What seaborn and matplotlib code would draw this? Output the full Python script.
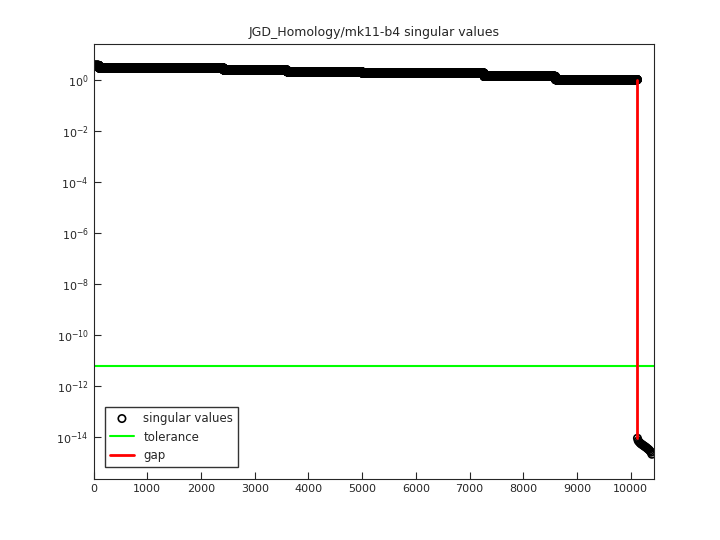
import numpy as np
import matplotlib
matplotlib.use('Agg')
import matplotlib.pyplot as plt
import seaborn as sns

# step levels (log10 of singular value) and where each ends
seg_end = [100, 2420, 3600, 5000, 7270, 8600, 10125]
seg_log10 = [0.58, 0.48, 0.40, 0.33, 0.28, 0.15, 0.02]
tail_idx = [10126, 10140, 10160, 10180, 10200, 10220, 10240, 10260, 10280,
            10300, 10320, 10340, 10360, 10380, 10395]
tail_log10 = [-14.05, -14.15, -14.2, -14.25, -14.28, -14.31, -14.34, -14.37,
              -14.4, -14.43, -14.47, -14.5, -14.55, -14.6, -14.68]
tolerance = 10 ** -11.2
gap_at = 10125

idx, vals = [], []
start = 1
for end, lv in zip(seg_end, seg_log10):
    n = np.arange(start, end + 1)
    idx.append(n)
    vals.append(np.full(len(n), 10 ** lv))
    start = end + 1
idx.append(np.array(tail_idx))
vals.append(10 ** np.array(tail_log10))
x = np.concatenate(idx)
y = np.concatenate(vals)

sns.set_style('ticks')
fig, ax = plt.subplots(figsize=(7.2, 5.4), dpi=100)
fig.subplots_adjust(left=0.13, right=0.908, top=0.918, bottom=0.113)

sns.scatterplot(x=x, y=y, ax=ax, marker='o', s=28, facecolor='none',
                edgecolor='black', linewidth=1.2, label='singular values')
ax.axhline(tolerance, color='#00ff00', lw=1.5, label='tolerance')
ax.plot([gap_at, gap_at], [10 ** seg_log10[-1], 10 ** tail_log10[0]],
        color='red', lw=2, label='gap')

ax.set_yscale('log')
ax.set_xlim(0, 10430)
ax.set_ylim(10 ** -15.65, 10 ** 1.41)
ax.set_xticks(range(0, 10001, 1000))
ax.set_yticks([10.0 ** k for k in range(0, -15, -2)])
ax.minorticks_off()
ax.tick_params(labelsize=8, direction='in', length=5)
for s in ax.spines.values():
    s.set_visible(True)
    s.set_linewidth(0.8)
ax.set_title('JGD_Homology/mk11-b4 singular values', fontsize=9)
ax.legend(loc='lower left', fontsize=8.5, frameon=True, fancybox=False,
          edgecolor='black', borderaxespad=1.0)
fig.savefig('out.png', dpi=100)
